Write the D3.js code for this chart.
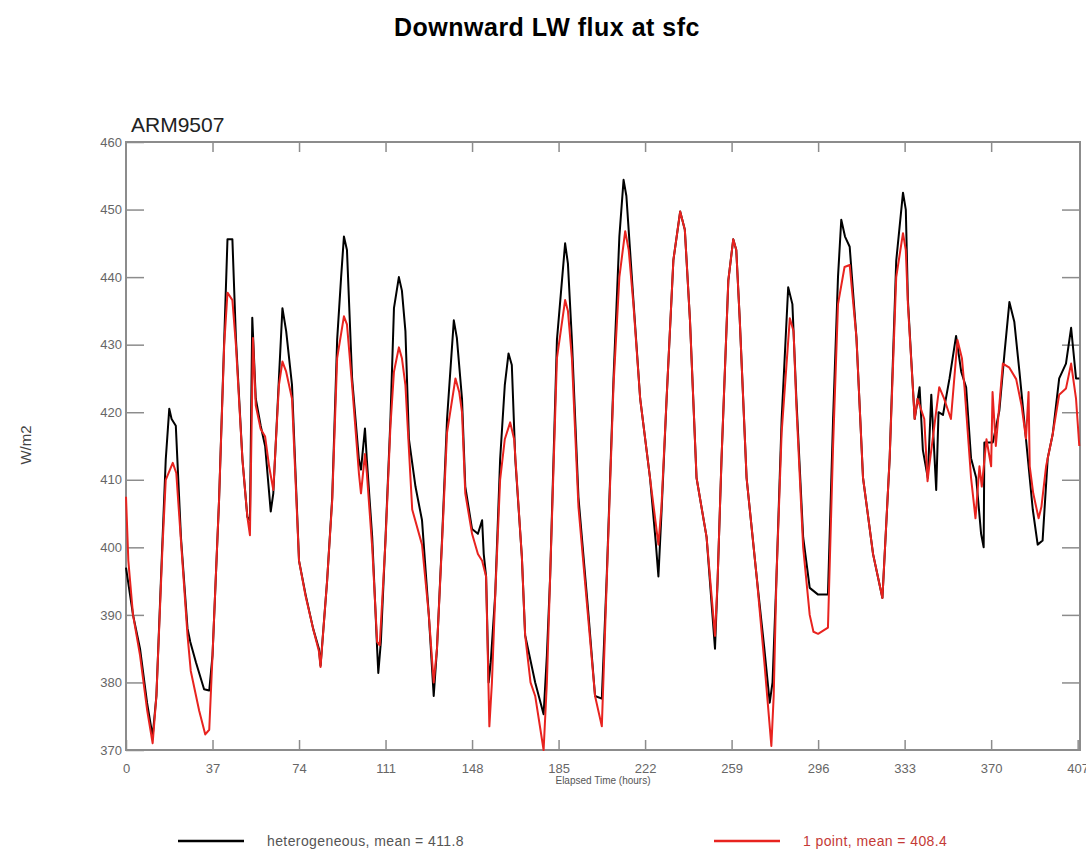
<!DOCTYPE html>
<html>
<head>
<meta charset="utf-8">
<script src="https://cdn.jsdelivr.net/npm/d3@7"></script>
<style>
  body { margin: 0; background: #fff; }
  svg { display: block; font-family: 'Liberation Sans', Arial, sans-serif; }
  .tick-label { fill: #666; }
</style>
</head>
<body>
<svg id="chart" width="1086" height="852"></svg>
<script>
// hours since start, W/m2
const heterogeneous = [
  [0, 397], [3, 390], [6, 385], [9, 377], [11.4, 372], [13, 378], [15.6, 401], [17, 413], [18.5, 420.5],
  [19.5, 419], [21.3, 418], [23.5, 401.5], [26.3, 388], [27.5, 386], [29.9, 383], [33.4, 379], [35.6, 378.8],
  [37, 384], [39.8, 407], [42, 430.7], [43.4, 445.6], [45.5, 445.6], [47, 431], [49.8, 413], [51.9, 404.5],
  [53, 404], [54, 434], [55.5, 422], [57.6, 418], [59.5, 415], [61.9, 405.3], [63, 408], [65.4, 425],
  [66.9, 435.4], [68.5, 432], [71, 424], [74, 398], [76.8, 393], [80, 388], [82.5, 385], [83.2, 382.5],
  [86, 395], [88.2, 407.4], [90.3, 430.7], [92, 440], [93.2, 446], [94.5, 444], [96.7, 425], [99.6, 413],
  [100.5, 411.5], [102.2, 417.6], [103, 413], [105.3, 401.5], [107.4, 385], [107.9, 381.4], [109, 386],
  [111, 401.5], [113.1, 419], [114.6, 435.4], [116.7, 440], [118, 438], [119.5, 432], [121, 416],
  [123.8, 409], [126.6, 404], [129.5, 390], [131.6, 378], [133, 385], [135.2, 401.5], [137.3, 419],
  [140.2, 433.6], [141.5, 431], [143.7, 422], [145.1, 409], [148, 402.7], [150.5, 402], [152.3, 404],
  [153, 399], [154, 395.7], [155.1, 380], [156, 383], [157.9, 393], [160, 413], [162, 424], [163.6, 428.7],
  [165, 427], [166.5, 413], [169.3, 398.6], [170.7, 387], [175, 380], [178.6, 375.3], [180, 384],
  [181.4, 395.7], [184.3, 430.7], [187.8, 445], [189, 442], [190.7, 430.7], [193.5, 407.4], [197.8, 390],
  [200.6, 378], [203.5, 377.6], [205.6, 395.7], [208.5, 425], [211, 446], [212.8, 454.4], [214, 452],
  [217, 436.6], [219.9, 422], [224.1, 410.3], [226.5, 401], [227.7, 395.7], [229, 405], [231.2, 422],
  [234.1, 442.5], [237, 449.7], [239, 447], [241.2, 433.6], [244, 410.3], [248.3, 401.5], [251.9, 385],
  [253, 395], [254.7, 413.2], [257.6, 439.5], [259.7, 445.6], [261, 444], [262.5, 433.6], [265.4, 410.3],
  [269.7, 395.7], [273, 385], [275.3, 377], [276.5, 380], [278.2, 395.7], [280.4, 419], [283.2, 438.5],
  [285, 436], [286.7, 422], [289.6, 401.5], [292.4, 394], [296, 393], [300.2, 393], [302.4, 419],
  [304.5, 440], [305.9, 448.5], [307.5, 446], [309.5, 444.5], [312.4, 431], [315.2, 410.3], [319.5, 399],
  [323.5, 392.5], [326.6, 413.2], [329.4, 442.4], [332.3, 452.5], [333.5, 450], [334.4, 436.6],
  [335.8, 428], [337.3, 419], [339.4, 423.7], [340.8, 414.4], [342.9, 410.3], [344.4, 422.6],
  [346.5, 408.5], [347.5, 420], [349.4, 419.6], [352.2, 425], [355, 431.3], [357.2, 426], [359.3, 423.7],
  [361.4, 413.2], [363.6, 410.3], [365.7, 402], [366.8, 400], [367.1, 415.5], [370.7, 415.5],
  [373.5, 420.2], [375.7, 428.7], [377.8, 436.3], [379.9, 433.4], [382.1, 426], [384.9, 416],
  [387.8, 405.6], [389.9, 400.4], [392, 401], [394.2, 413.2], [396.3, 416.7], [399.1, 425], [402, 427.2],
  [404.2, 432.5], [406.3, 425], [407.7, 425]
];

const onePoint = [
  [0, 407.5], [1, 398], [3, 390], [6, 384], [9, 376], [11.4, 371], [13, 378], [15.6, 400], [17, 410],
  [20, 412.5], [21.5, 411], [23.5, 401], [26.3, 387], [27.7, 381.7], [31.3, 375.8], [33.9, 372.3],
  [35.6, 373], [37, 384], [39.8, 407], [42, 430], [43.4, 437.7], [45.5, 436.6], [47, 430], [49.8, 413],
  [51.9, 404.5], [53, 401.8], [54.3, 431], [55.5, 421], [57.6, 417.5], [59.5, 416.4], [61.2, 412],
  [63, 408.5], [65.4, 424], [66.9, 427.5], [68.5, 426], [71, 422], [74, 398], [76.8, 392.8], [80, 388],
  [82.5, 384.6], [83.2, 382.3], [86, 395], [88.2, 407], [90.3, 428], [93.2, 434.2], [94.5, 433],
  [96.7, 424], [99.6, 411], [100.5, 408], [102.2, 413.8], [103, 411], [105.3, 400], [107.4, 386],
  [108.5, 385.5], [111, 401], [113.1, 418], [114.6, 426], [116.7, 429.6], [118, 428], [119.5, 424],
  [122.4, 405.6], [126.6, 400.4], [129.5, 390], [131.6, 380], [133, 385], [135.2, 401], [137.3, 417],
  [140.9, 425], [142.5, 423], [143.7, 420], [145.1, 408], [148, 402], [150.5, 399], [152.3, 398],
  [154, 395.7], [155.4, 373.5], [156.5, 380], [157.9, 392.8], [160, 410], [162, 416], [164.3, 418.5],
  [166, 416], [169.3, 398.6], [170.7, 387], [173, 380], [175, 378], [178.6, 370], [180, 380],
  [181.4, 395.7], [184.3, 428], [187.8, 436.6], [189, 435], [190.7, 428], [193.5, 406], [197.8, 389],
  [200.6, 378], [203.5, 373.5], [205.6, 395], [208.5, 424], [211, 440], [213.5, 446.8], [215, 444],
  [217, 436], [219.9, 422], [224.1, 410.3], [227.7, 400.4], [229, 406], [231.2, 422], [234.1, 442.5],
  [237, 449.7], [239, 447], [241.2, 433.6], [244, 410.3], [248.3, 401.5], [251.9, 386.9], [253, 395],
  [254.7, 413.2], [257.6, 439.5], [259.7, 445.6], [261, 444], [262.5, 433.6], [265.4, 410.3],
  [269.7, 395.7], [273, 383], [276, 370.6], [277, 378], [278.2, 395.7], [280.4, 417], [283.9, 433.9],
  [285.5, 432], [286.7, 421], [289.6, 400], [292.4, 390], [294, 387.5], [296, 387.2], [300.2, 388.1],
  [302.4, 415], [304.5, 436], [307.3, 441.5], [309.5, 441.8], [312.4, 431], [315.2, 410.3], [319.5, 399],
  [323.5, 392.5], [326.6, 413.2], [329.4, 440], [332.3, 446.5], [333.5, 444], [334.4, 436],
  [335.8, 427.8], [337.3, 419], [338.5, 422], [341.4, 419], [342.8, 409.8], [343.5, 412], [345, 416],
  [347.8, 423.7], [349.9, 422], [352.8, 419], [355.6, 430.7], [357.5, 428], [358.6, 423.7],
  [361.4, 410.3], [363.3, 404.3], [365, 412], [366, 409], [368, 416], [370, 412], [370.6, 423],
  [372, 415], [375, 427.2], [377.8, 426.6], [380.7, 424.9], [383, 421], [384.9, 416.1], [386, 423],
  [386.5, 412], [388, 408], [390.3, 404.3], [391.5, 406], [393.5, 412], [396.3, 416.7], [399.1, 422.6],
  [402, 423.5], [404.2, 427.2], [406.3, 422], [407.7, 415]
];

const xTickValues = [0, 37, 74, 111, 148, 185, 222, 259, 296, 333, 370, 407];
const yTickValues = [370, 380, 390, 400, 410, 420, 430, 440, 450, 460];

const chartTitle = 'Downward LW flux at sfc';
const caseName = 'ARM9507';
const legendLabels = ['heterogeneous, mean = 411.8', '1 point, mean = 408.4'];
const seriesColors = ['#000000', '#e8231f'];

const svg = d3.select('#chart');
const plot = { l: 126, r: 1080, t: 142, b: 750 };
const axisGrey = '#8c8c8c';

const x = d3.scaleLinear().domain([0, 408]).range([plot.l, plot.r]);
const y = d3.scaleLinear().domain([370, 460]).range([plot.b, plot.t]);

svg.append('text')
  .attr('x', 547).attr('y', 36)
  .attr('text-anchor', 'middle')
  .style('font-size', '25px')
  .style('font-weight', 700)
  .style('letter-spacing', '0.5px')
  .text(chartTitle);

svg.append('text')
  .attr('x', 131).attr('y', 132)
  .style('font-size', '21px')
  .style('fill', '#222')
  .text(caseName);

// frame
svg.append('rect')
  .attr('x', plot.l).attr('y', plot.t)
  .attr('width', plot.r - plot.l).attr('height', plot.b - plot.t)
  .style('fill', 'none')
  .style('stroke', axisGrey)
  .style('stroke-width', 2);

// inward ticks on all four sides
const xAxisBottom = d3.axisBottom(x).tickValues(xTickValues).tickSize(-10).tickPadding(14);
const xAxisTop = d3.axisTop(x).tickValues(xTickValues.slice(1, -1)).tickSize(-10).tickFormat('');
const yAxisLeft = d3.axisLeft(y).tickValues(yTickValues).tickSize(-18).tickPadding(-12);
const yAxisRight = d3.axisRight(y).tickValues(yTickValues.slice(1, -1)).tickSize(-18).tickFormat('');

const styleAxis = (g) => {
  g.select('.domain').remove();
  g.selectAll('.tick line').style('stroke', axisGrey).style('stroke-width', 1.5);
  g.selectAll('.tick text').attr('class', 'tick-label').style('font-size', '13px').style('font-family', null);
};

svg.append('g').attr('transform', `translate(0, ${plot.b})`).call(xAxisBottom).call(styleAxis);
svg.append('g').attr('transform', `translate(0, ${plot.t})`).call(xAxisTop).call(styleAxis);
svg.append('g').attr('transform', `translate(${plot.l}, 0)`).call(yAxisLeft).call(styleAxis)
  .selectAll('.tick text').attr('x', -4);
svg.append('g').attr('transform', `translate(${plot.r}, 0)`).call(yAxisRight).call(styleAxis);

svg.append('text')
  .attr('x', 603).attr('y', 784)
  .attr('text-anchor', 'middle')
  .style('font-size', '10px')
  .style('fill', '#555')
  .text('Elapsed Time (hours)');

svg.append('text')
  .attr('transform', 'translate(31, 445) rotate(-90)')
  .attr('text-anchor', 'middle')
  .style('font-size', '15px')
  .style('fill', '#444')
  .text('W/m2');

const line = d3.line().x((d) => x(d[0])).y((d) => y(d[1]));

[heterogeneous, onePoint].forEach((series, i) => {
  svg.append('path')
    .datum(series)
    .attr('d', line)
    .style('fill', 'none')
    .style('stroke', seriesColors[i])
    .style('stroke-width', 2)
    .style('stroke-linejoin', 'round');
});

// legend
const legendX = [178, 714];
legendLabels.forEach((label, i) => {
  const g = svg.append('g').attr('transform', `translate(${legendX[i]}, 841)`);
  g.append('line')
    .attr('x1', 0).attr('x2', 66)
    .style('stroke', seriesColors[i])
    .style('stroke-width', 2.5);
  g.append('text')
    .attr('x', 89).attr('y', 5)
    .style('font-size', '14px')
    .style('letter-spacing', '0.4px')
    .style('fill', i === 0 ? '#555' : '#c43a36')
    .text(label);
});
</script>
</body>
</html>
